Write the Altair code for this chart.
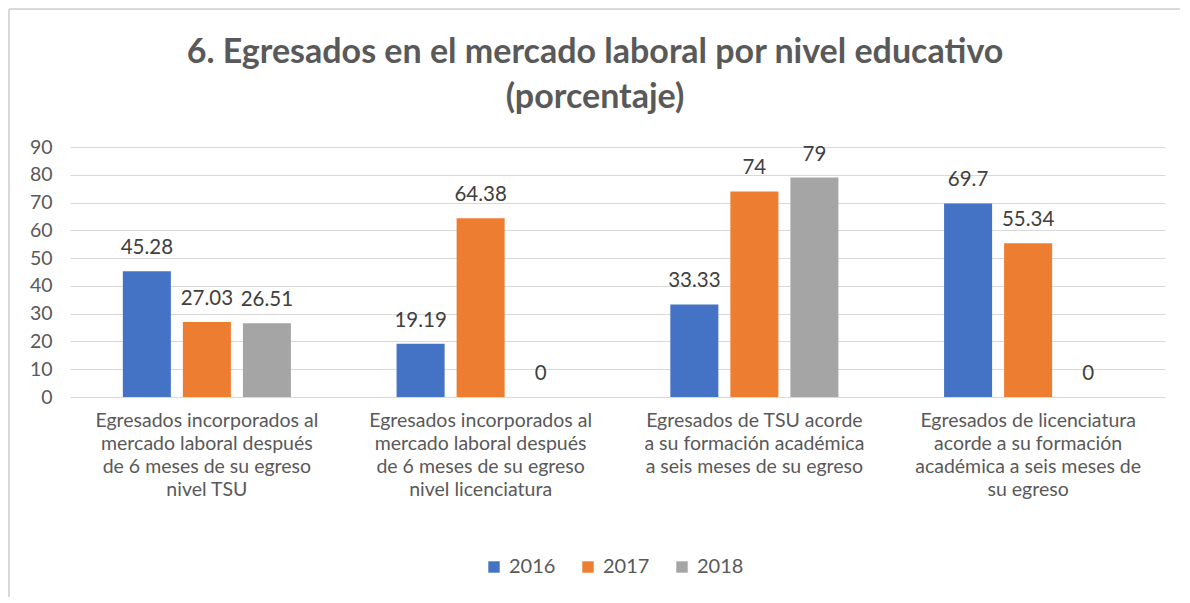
import altair as alt
import pandas as pd

title_lines = ["6. Egresados en el mercado laboral por nivel educativo", "(porcentaje)"]
categories = [
    "Egresados incorporados al|mercado laboral después|de 6 meses de su egreso|nivel TSU",
    "Egresados incorporados al|mercado laboral después|de 6 meses de su egreso|nivel licenciatura",
    "Egresados de TSU  acorde|a su formación académica|a seis meses de su egreso",
    "Egresados de licenciatura|acorde a su formación|académica a seis meses de|su egreso",
]
years = ["2016", "2017", "2018"]
v2016 = [45.28, 19.19, 33.33, 69.7]
v2017 = [27.03, 64.38, 74, 55.34]
v2018 = [26.51, 0, 79, 0]
colors = ["#4472C4", "#ED7D31", "#A5A5A5"]

rows = []
for i, c in enumerate(categories):
    for y, vals in zip(years, [v2016, v2017, v2018]):
        rows.append({"cat": c, "year": y, "value": vals[i]})
df = pd.DataFrame(rows)

FONT = "Lato"

x = alt.X("cat:N", sort=categories, title=None,
          scale=alt.Scale(paddingInner=0, paddingOuter=0),
          axis=alt.Axis(labelExpr="split(datum.label, '|')", labelAngle=0,
                        labelFontSize=19.5, labelColor="#595959", labelFont=FONT,
                        labelLineHeight=23, labelPadding=14, ticks=False,
                        domain=False, labelBaseline="top", labelLimit=0,
                        labelOverlap=False))
xo = alt.XOffset("year:N", sort=years,
                 scale=alt.Scale(paddingInner=0.2, paddingOuter=0.88))
y = alt.Y("value:Q", title=None,
          scale=alt.Scale(domain=[0, 90], nice=False),
          axis=alt.Axis(values=list(range(0, 91, 10)), labelFontSize=19.5,
                        labelColor="#595959", labelFont=FONT, ticks=False,
                        domain=False, gridColor="#D9D9D9", gridWidth=1,
                        labelPadding=18, labelOverlap=False, labelFlush=False))

bars = alt.Chart(df).mark_bar().encode(
    x=x, xOffset=xo, y=y,
    color=alt.Color("year:N", sort=years,
                    scale=alt.Scale(domain=years, range=colors),
                    legend=alt.Legend(title=None, orient="none", direction="horizontal",
                                      legendX=414, legendY=410, symbolType="square",
                                      symbolSize=130, symbolStrokeWidth=0,
                                      labelFontSize=20, labelColor="#595959",
                                      labelFont=FONT, columnPadding=22,
                                      symbolOffset=0, labelOffset=5)),
)

labels = alt.Chart(df).mark_text(baseline="alphabetic", dy=-17, fontSize=20.5,
                                 color="#404040", font=FONT).encode(
    x=x, xOffset=xo, y=y, text=alt.Text("value:Q"),
)

title_df = pd.DataFrame({"t": title_lines, "line": [0, 1]})
title = alt.Chart(title_df).mark_text(
    fontSize=34, font=FONT, fontWeight="bold", color="#595959",
    align="center", baseline="middle").encode(
    text="t:N",
    x=alt.value(525),
    y=alt.YValue(alt.ExprRef("-94 + 45 * datum.line")),
)

border = alt.Chart(pd.DataFrame({"a": [0]})).mark_rule(
    stroke="#D9D9D9", strokeWidth=2).encode(
    x=alt.value(-61), x2=alt.value(1110), y=alt.value(-138), y2=alt.value(-138)
)
border_left = alt.Chart(pd.DataFrame({"a": [0]})).mark_rule(
    stroke="#D9D9D9", strokeWidth=2).encode(
    x=alt.value(-61), y=alt.value(-138), y2=alt.value(456)
)

chart = alt.layer(border, border_left, bars, labels, title).properties(
    width=1095, height=250,
    autosize=alt.AutoSizeParams(type="none"),
    padding={"left": 62, "top": 139, "right": 15, "bottom": 200},
).configure_view(stroke=None)

chart.save("out.html", embed_options={"renderer": "svg", "actions": False})
